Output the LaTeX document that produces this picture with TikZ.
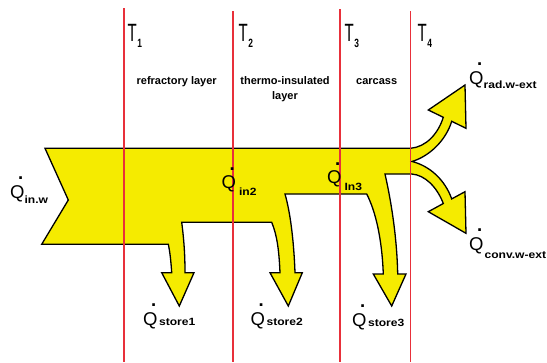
\documentclass[tikz,border=0pt]{standalone}
\usepackage{fontspec}
\setmainfont{Liberation Sans}
\usepackage{graphicx}
\definecolor{flowyellow}{RGB}{245,235,0}
\definecolor{linered}{RGB}{232,48,58}
\newcommand\Qdt{\rlap{\hspace{0.43em}\raisebox{0.98em}{\bfseries .}}Q}
% #1 drop, #2 gap, #3 subscript text
\newcommand\qlab[3]{{\fontsize{18.5}{18.5}\selectfont\Qdt}\kern#2pt{\fontsize{10.5}{10.5}\selectfont\bfseries\raisebox{-#1pt}{\scalebox{1.15}[1]{#3}}}}
\newcommand\Tlab[1]{{\fontsize{25}{25}\selectfont\scalebox{0.6}[1]{T}}\kern0.5pt{\fontsize{12}{12}\selectfont\bfseries\raisebox{-5.5pt}{\scalebox{0.7}[1]{#1}}}}
\tikzset{
  flow/.style={fill=flowyellow,draw=black,line width=1.3pt,line join=miter},
  wallline/.style={draw=linered,line width=1.8pt},
  tlabel/.style={anchor=base west,inner sep=0pt},
  qlabel/.style={anchor=base west,inner sep=0pt},
  layerlabel/.style={font=\fontsize{11}{15}\selectfont\bfseries,align=center,inner sep=0pt}
}
\begin{document}
\begin{tikzpicture}[x=1pt,y=-1pt]
\useasboundingbox (0,0) rectangle (547,362);
\fill[white] (0,0) rectangle (547,362);
% heat flow band
\draw[flow] (45,148.3) -- (410.5,148.3)
 .. controls (426,147) and (438,134) .. (443.3,117.3)
 -- (428.3,110) -- (465,85) -- (466,128.3) -- (451.7,121.3)
 .. controls (446,140) and (430,156) .. (412,161.5)
 .. controls (430,166) and (445,180) .. (451.7,198.9)
 -- (465,191.7) -- (466,233.3) -- (428.3,211.7) -- (443.3,203.5)
 .. controls (437,187) and (425,175) .. (411.7,174)
 -- (385,174)
 .. controls (392,205) and (397,240) .. (397.7,274)
 -- (406,274) -- (391.7,306) -- (373.3,274) -- (383.3,274)
 .. controls (382,240) and (376,212) .. (366.7,194)
 -- (285,194)
 .. controls (291,215) and (294,245) .. (295,272.7)
 -- (302.3,272.7) -- (288.3,306) -- (270,272.7) -- (280,272.7)
 .. controls (279,250) and (277,235) .. (271.7,222.3)
 -- (181.7,222.3)
 .. controls (184,240) and (185,255) .. (185,272.7)
 -- (194,272.7) -- (179.3,306) -- (161.7,272.7) -- (171.7,272.7)
 .. controls (171,262) and (170,252) .. (168.3,244.3)
 -- (41.7,244.3) -- (68.3,200) -- cycle;
% wall boundaries
\coordinate (w1t) at (124,8);   \coordinate (w1b) at (124,362);
\coordinate (w2t) at (233,11);  \coordinate (w2b) at (233,362);
\coordinate (w3t) at (340,9);   \coordinate (w3b) at (340,362);
\coordinate (w4t) at (410.5,11);\coordinate (w4b) at (410.5,362);
\draw[wallline] (w1t) -- (w1b);
\draw[wallline] (w2t) -- (w2b);
\draw[wallline] (w3t) -- (w3b);
\draw[wallline] (w4t) -- (w4b);
% temperature labels
\node[tlabel] (t1) at (127.5,41.7) {\Tlab{1}};
\node[tlabel] (t2) at (238.5,41.7) {\Tlab{2}};
\node[tlabel] (t3) at (344.5,41.7) {\Tlab{3}};
\node[tlabel] (t4) at (417.5,41.7) {\Tlab{4}};
% layer labels
\node[layerlabel] (l1) at (176.7,81.7) {refractory layer};
\node[layerlabel] (l2) at (285,89.2) {thermo-insulated\\layer};
\node[layerlabel] (l3) at (376.7,81.7) {carcass};
% heat flow labels
\node[qlabel] (qinw) at (10,198) {\qlab{5.3}{0}{in.w}};
\node[qlabel] (qin2) at (221.5,188.3) {\qlab{6.7}{3}{in2}};
\node[qlabel] (qin3) at (327,183.3) {\qlab{6.7}{3}{In3}};
\node[qlabel] (qs1) at (143,325) {\qlab{0}{1.5}{store1}};
\node[qlabel] (qs2) at (250.5,325) {\qlab{0}{1.5}{store2}};
\node[qlabel] (qs3) at (352,326) {\qlab{0}{1.5}{store3}};
\node[qlabel] (qrad) at (469,84) {\qlab{4.3}{0}{rad.w-ext}};
\node[qlabel] (qconv) at (469,250) {\qlab{8.3}{1}{conv.w-ext}};
\end{tikzpicture}
\end{document}
